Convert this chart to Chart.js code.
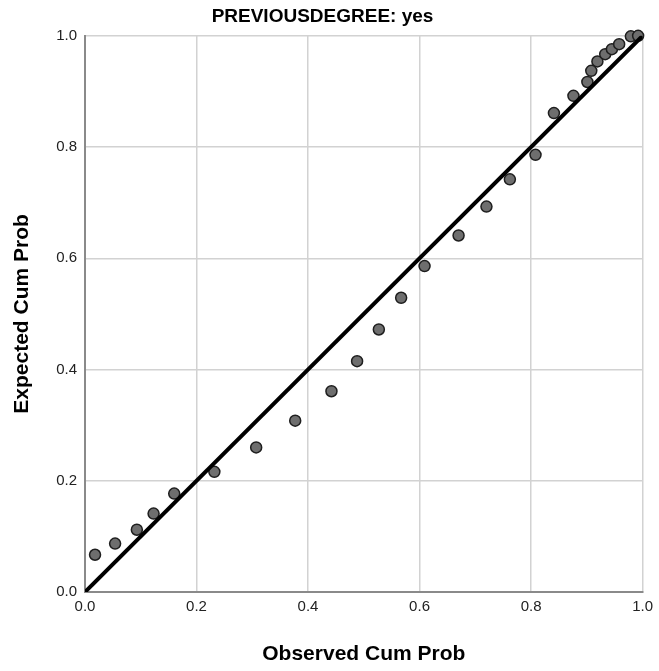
<!DOCTYPE html>
<html>
<head>
<meta charset="utf-8">
<title>P-P Plot</title>
<script src="https://cdn.jsdelivr.net/npm/chart.js@4.4.1/dist/chart.umd.min.js"></script>
<style>
  html, body { margin: 0; padding: 0; background: #fff; }
  #ppChart { display: block; }
</style>
</head>
<body>
<canvas id="ppChart" width="659" height="671"></canvas>
<script>
// ---- Data ----
const observedCum = [0.018, 0.054, 0.093, 0.123, 0.160, 0.232, 0.307, 0.377, 0.442, 0.488,
                     0.527, 0.567, 0.609, 0.670, 0.720, 0.762, 0.808, 0.841, 0.876, 0.901,
                     0.908, 0.919, 0.933, 0.945, 0.958, 0.979, 0.992];
const expectedCum = [0.067, 0.087, 0.112, 0.141, 0.177, 0.216, 0.260, 0.308, 0.361, 0.415,
                     0.472, 0.529, 0.586, 0.641, 0.693, 0.742, 0.786, 0.861, 0.892, 0.917,
                     0.937, 0.954, 0.967, 0.976, 0.985, 0.999, 1.000];
const refLineX = [0, 1];
const refLineY = [0, 1];
const tickValues = [0, 0.2, 0.4, 0.6, 0.8, 1.0];

const chartTitle = "PREVIOUSDEGREE: yes";
const xTitle = "Observed Cum Prob";
const yTitle = "Expected Cum Prob";

// ---- Build points ----
const points = observedCum.map((x, i) => ({ x, y: expectedCum[i] }));
const refLine = refLineX.map((x, i) => ({ x, y: refLineY[i] }));

const FONT = "'Liberation Sans', Arial, sans-serif";

const gridOpts = {
  color: "#d2d2d2",
  lineWidth: 1.5,
  drawTicks: false
};
const borderOpts = { color: "#8a8a8a", width: 2 };

// ---- Chart ----
const ctx = document.getElementById("ppChart");
new Chart(ctx, {
  type: "scatter",
  data: {
    datasets: [
      {
        type: "line",
        data: refLine,
        borderColor: "#000",
        borderWidth: 4,
        pointRadius: 0,
        fill: false,
        order: 0
      },
      {
        data: points,
        backgroundColor: "#6e6e6e",
        borderColor: "#1e1e1e",
        borderWidth: 1.5,
        pointRadius: 5.5,
        clip: false,
        order: 1
      }
    ]
  },
  options: {
    responsive: false,
    animation: false,
    devicePixelRatio: 1,
    layout: { padding: { top: 0, right: 14, bottom: 0, left: 0 } },
    plugins: {
      legend: { display: false },
      tooltip: { enabled: false },
      title: {
        display: true,
        text: chartTitle,
        color: "#000",
        font: { family: FONT, size: 19, weight: "bold" },
        padding: { top: 5, bottom: 8 }
      }
    },
    scales: {
      x: {
        type: "linear",
        min: 0,
        max: 1,
        afterBuildTicks: axis => { axis.ticks = tickValues.map(v => ({ value: v })); },
        afterFit: axis => { axis.height = 79; },
        ticks: {
          callback: v => v.toFixed(1),
          color: "#222",
          padding: 6,
          font: { family: FONT, size: 15 }
        },
        grid: gridOpts,
        border: borderOpts,
        title: {
          display: true,
          text: xTitle,
          color: "#000",
          font: { family: FONT, size: 21, weight: "bold" },
          padding: { top: 0, bottom: 4 }
        }
      },
      y: {
        type: "linear",
        min: 0,
        max: 1,
        afterBuildTicks: axis => { axis.ticks = tickValues.map(v => ({ value: v })); },
        afterFit: axis => { axis.width = 85; },
        ticks: {
          callback: v => v.toFixed(1),
          color: "#222",
          padding: 8,
          font: { family: FONT, size: 15 }
        },
        grid: gridOpts,
        border: borderOpts,
        title: {
          display: true,
          text: yTitle,
          color: "#000",
          font: { family: FONT, size: 21, weight: "bold" },
          padding: { top: 10, bottom: 0 }
        }
      }
    }
  }
});
</script>
</body>
</html>
